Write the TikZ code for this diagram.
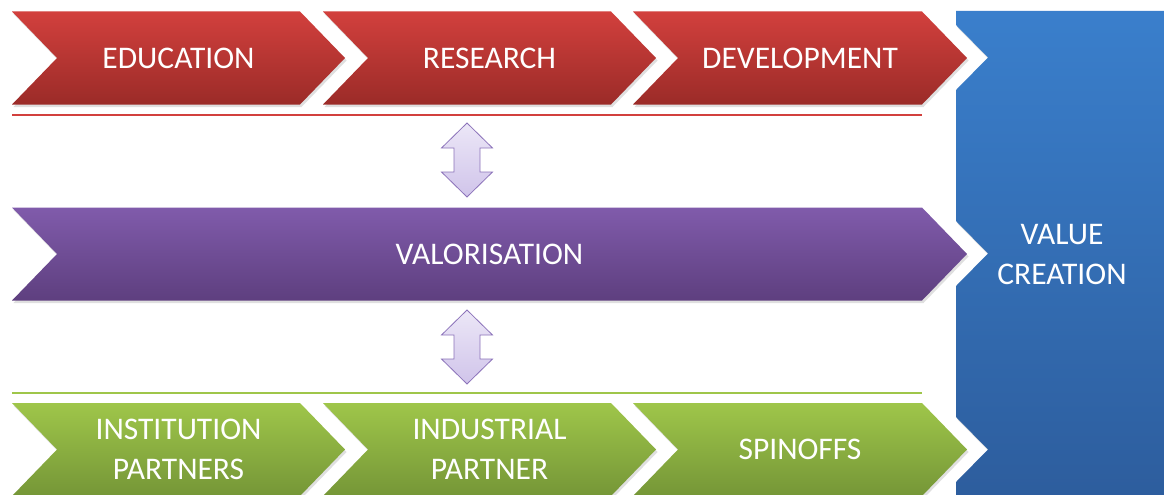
\documentclass[tikz,border=0pt]{standalone}
\usepackage{fontspec}
\setmainfont{Carlito}
\usepackage{xcolor}
\usepackage{tikz}
\usetikzlibrary{shadows}
\tikzset{>=stealth}
\definecolor{redtop}{RGB}{210,64,61}
\definecolor{redbot}{RGB}{155,43,40}
\definecolor{purtop}{RGB}{128,91,171}
\definecolor{purbot}{RGB}{94,63,127}
\definecolor{grntop}{RGB}{159,198,74}
\definecolor{grnbot}{RGB}{117,150,55}
\definecolor{blutop}{RGB}{58,127,204}
\definecolor{blubot}{RGB}{45,93,157}
\definecolor{arrtop}{RGB}{236,231,247}
\definecolor{arrbot}{RGB}{208,196,234}
\definecolor{arrline}{RGB}{140,115,186}
\tikzset{
  redfill/.style={top color=redtop,bottom color=redbot},
  purfill/.style={top color=purtop,bottom color=purbot},
  grnfill/.style={top color=grntop,bottom color=grnbot},
  blufill/.style={top color=blutop,bottom color=blubot},
  shadowed/.style={drop shadow={shadow xshift=1.5pt,shadow yshift=-2.5pt,opacity=0.25}},
  lbl/.style={text=white,font=\fontsize{31.5}{39.5}\selectfont,align=center},
  updown/.style={draw=arrline,line width=0.8pt,top color=arrtop,bottom color=arrbot},
}
% name, left x, tip x, middle y, fill, text
\newcommand{\chevron}[6]{%
  \path[#5,shadowed] (#2,{-#4-46.5}) -- ({#3-45},{-#4-46.5}) -- (#3,-#4) -- ({#3-45},{-#4+46.5})
    -- (#2,{-#4+46.5}) -- ({#2+45},-#4) -- cycle;
  \node[lbl] (#1) at ({(#2+#3)/2},-#4) {#6};}
% name, x, top y, bottom y
\newcommand{\twoway}[4]{%
  \path[updown] (#2,-#3) -- ({#2+25.5},{-#3-25}) -- ({#2+13},{-#3-25}) -- ({#2+13},{-#4+25})
    -- ({#2+25.5},{-#4+25}) -- (#2,-#4) -- ({#2-25.5},{-#4+25}) -- ({#2-13},{-#4+25})
    -- ({#2-13},{-#3-25}) -- ({#2-25.5},{-#3-25}) -- cycle;
  \coordinate (#1) at (#2,{-(#3+#4)/2});}
\begin{document}
\begin{tikzpicture}[x=1pt,y=1pt]
  \useasboundingbox[fill=white] (0,0) rectangle (1164,-495);
  % value creation panel
  \path[blufill,shadowed] (956,-11) -- (1170,-11) -- (1170,-500) -- (956,-500) -- (956,-482) -- (988,-449.5)
    -- (956,-417) -- (956,-286) -- (988,-253.5) -- (956,-221) -- (956,-90) -- (988,-57.5) -- (956,-25) -- cycle;
  \node[lbl] (value) at (1062,-254.5) {VALUE\\CREATION};
  % top row
  \chevron{edu}{12}{345}{58}{redfill}{EDUCATION}
  \chevron{res}{323}{656}{58}{redfill}{RESEARCH}
  \chevron{dev}{633}{967}{58}{redfill}{DEVELOPMENT}
  \draw[redtop,line width=1.2pt] (12,-115) -- (922,-115);
  % middle
  \chevron{val}{12}{967}{254}{purfill}{VALORISATION}
  \twoway{up}{467}{123}{197}
  \twoway{down}{467}{310}{384}
  % bottom row
  \draw[grntop,line width=1.2pt] (12,-393) -- (922,-393);
  \chevron{inst}{12}{345}{449.5}{grnfill}{INSTITUTION\\PARTNERS}
  \chevron{ind}{323}{656}{449.5}{grnfill}{INDUSTRIAL\\PARTNER}
  \chevron{spin}{633}{967}{449.5}{grnfill}{SPINOFFS}
\end{tikzpicture}
\end{document}
